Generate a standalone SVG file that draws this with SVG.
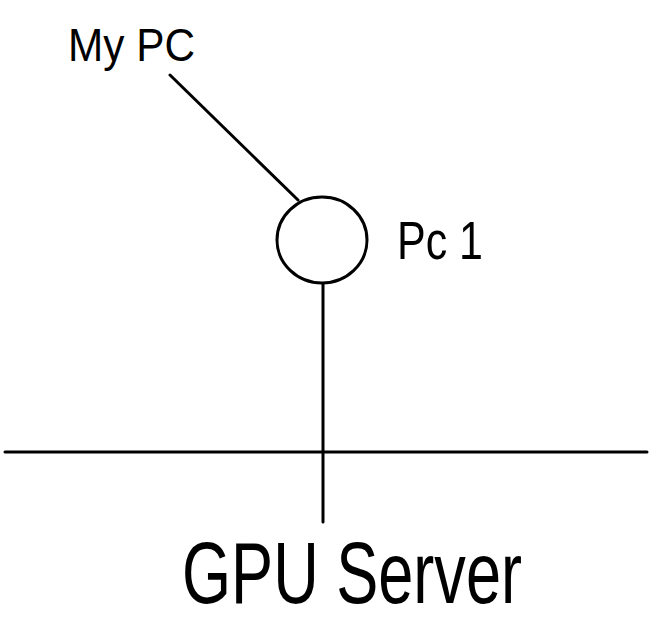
<svg xmlns="http://www.w3.org/2000/svg" width="657" height="627" viewBox="0 0 657 627">
<style>
.ln{stroke:#000;stroke-width:3;fill:none;stroke-linecap:round}
.t{font-family:"Liberation Sans","DejaVu Sans",sans-serif;fill:#000}
</style>
<rect width="657" height="627" fill="#fff"/>
<g id="connectors">
<line class="ln" x1="170" y1="75" x2="298" y2="200"/>
<line class="ln" x1="323" y1="284" x2="323" y2="522"/>
<line class="ln" x1="5" y1="452" x2="647" y2="452"/>
</g>
<g id="mypc">
<text class="t" x="68" y="61" font-size="46" textLength="127" lengthAdjust="spacingAndGlyphs">My PC</text>
</g>
<g id="pc1">
<ellipse class="ln" cx="322" cy="240" rx="45" ry="43"/>
<text class="t" x="397" y="259" font-size="54" textLength="86" lengthAdjust="spacingAndGlyphs">Pc 1</text>
</g>
<g id="gpu">
<text class="t" x="182" y="603" font-size="88" textLength="340" lengthAdjust="spacingAndGlyphs">GPU Server</text>
</g>
</svg>
